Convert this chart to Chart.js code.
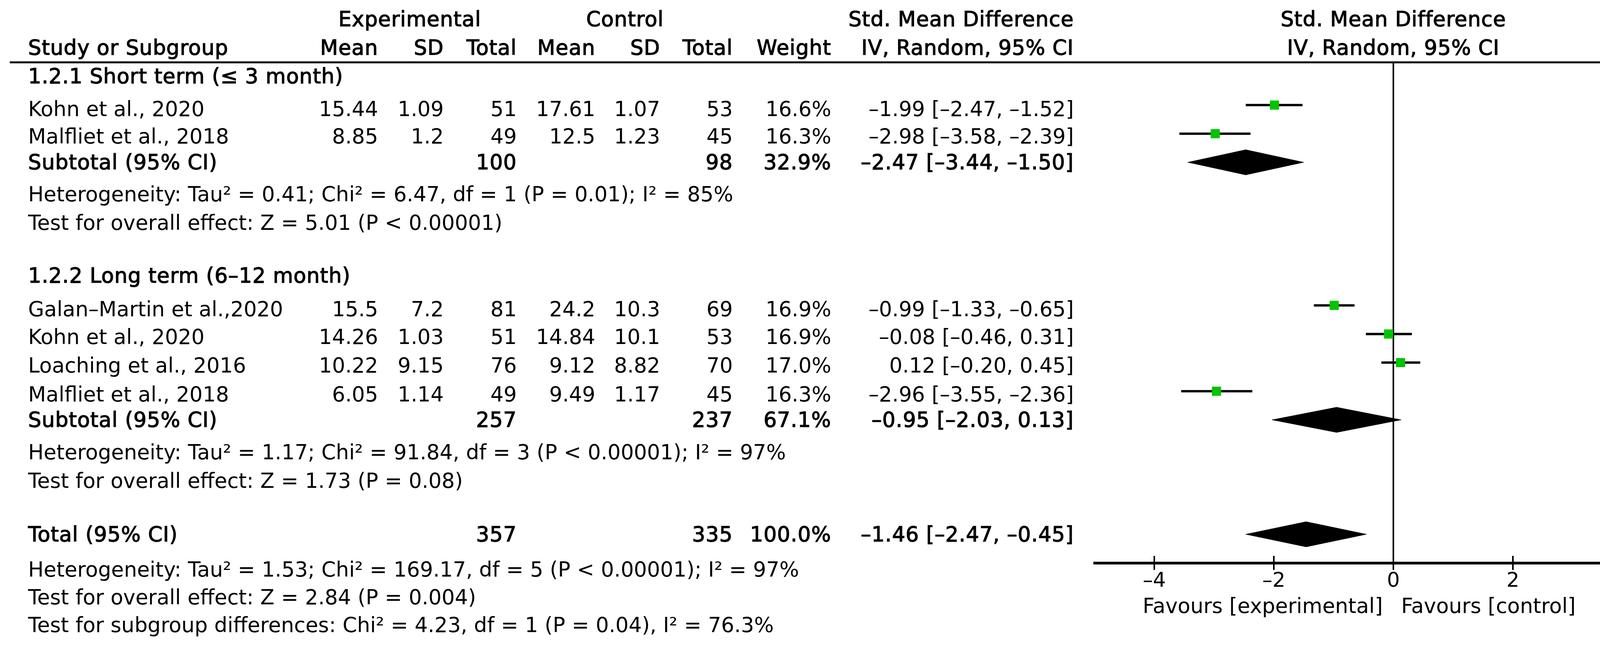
<!DOCTYPE html>
<html>
<head>
<meta charset="utf-8">
<script src="https://cdn.jsdelivr.net/npm/chart.js@4/dist/chart.umd.min.js"></script>
<style>
 body { margin: 0; background: #fff; }
 #page { position: relative; width: 4386px; height: 1650px; overflow: hidden; background: #fff; }
 #plot { position: absolute; left: 0; top: 0; }
 .t { position: absolute; font-family: "DejaVu Sans", sans-serif; font-size: 53px; line-height: 53px; white-space: pre; color: #000; }
 .b { -webkit-text-stroke: 1.5px #000; letter-spacing: 1px; }
 #rule { position: absolute; left: 25px; top: 157px; width: 4358px; height: 5px; background: #000; }
</style>
</head>
<body>
<div id="page">
 <canvas id="plot" width="4386" height="1650"></canvas>
 <div id="rule"></div>
</div>
<script>
// データ（各研究）
const studyNames = ["Kohn et al., 2020", "Malfliet et al., 2018", "Galan\u2013Martin et al.,2020", "Kohn et al., 2020", "Loaching et al., 2016", "Malfliet et al., 2018"];
const expMean = [15.44, 8.85, 15.5, 14.26, 10.22, 6.05];
const expSD = [1.09, 1.2, 7.2, 1.03, 9.15, 1.14];
const expTotal = [51, 49, 81, 51, 76, 49];
const ctrlMean = [17.61, 12.5, 24.2, 14.84, 9.12, 9.49];
const ctrlSD = [1.07, 1.23, 10.3, 10.1, 8.82, 1.17];
const ctrlTotal = [53, 45, 69, 53, 70, 45];
const studyWeight = [16.6, 16.3, 16.9, 16.9, 17.0, 16.3];
const studySmd = [-1.99, -2.98, -0.99, -0.08, 0.12, -2.96];
const studyLow = [-2.47, -3.58, -1.33, -0.46, -0.20, -3.55];
const studyHigh = [-1.52, -2.39, -0.65, 0.31, 0.45, -2.36];
const studyRow = [1, 2, 8, 9, 10, 11];

// サブトータル・トータル
const pooledNames = ["Subtotal (95% CI)", "Subtotal (95% CI)", "Total (95% CI)"];
const pooledExpTotal = [100, 257, 357];
const pooledCtrlTotal = [98, 237, 335];
const pooledWeight = [32.9, 67.1, 100.0];
const pooledSmd = [-2.47, -0.95, -1.46];
const pooledLow = [-3.44, -2.03, -2.47];
const pooledHigh = [-1.50, 0.13, -0.45];
const pooledRow = [3, 12, 16];

const groupTitles = ["1.2.1 Short term (\u2264 3 month)", "1.2.2 Long term (6\u201312 month)"];
const hetLines = [
 "Heterogeneity: Tau\u00b2 = 0.41; Chi\u00b2 = 6.47, df = 1 (P = 0.01); I\u00b2 = 85%",
 "Heterogeneity: Tau\u00b2 = 1.17; Chi\u00b2 = 91.84, df = 3 (P < 0.00001); I\u00b2 = 97%",
 "Heterogeneity: Tau\u00b2 = 1.53; Chi\u00b2 = 169.17, df = 5 (P < 0.00001); I\u00b2 = 97%"
];
const effectLines = [
 "Test for overall effect: Z = 5.01 (P < 0.00001)",
 "Test for overall effect: Z = 1.73 (P = 0.08)",
 "Test for overall effect: Z = 2.84 (P = 0.004)"
];
const subgroupLine = "Test for subgroup differences: Chi\u00b2 = 4.23, df = 1 (P = 0.04), I\u00b2 = 76.3%";
const xTicks = [-4, -2, 0, 2, 4];

// レイアウト（ピクセル）
const baseStudy = [297, 367, 809, 880, 953, 1027];
const basePooled = [433, 1092, 1385];
const baseHet = [515, 1175, 1475];
const baseEffect = [588, 1248, 1546];
const baseGroup = [213, 723];
const col = { name: 72, expMean: 968, expSD: 1136, expTotal: 1323, ctrlMean: 1524, ctrlSD: 1690, ctrlTotal: 1876, weight: 2128, ci: 2749 };

const page = document.getElementById("page");
const dash = s => s.replace(/-/g, "\u2013");
const fmt = v => dash(v.toFixed(2));

function addText(str, x, baseline, align, bold) {
 const el = document.createElement("div");
 el.className = bold ? "t b" : "t";
 el.textContent = str;
 el.style.top = (baseline - 44.8) + "px";
 if (align === "right") el.style.right = (4386 - x) + "px";
 else if (align === "center") { el.style.left = x + "px"; el.style.transform = "translateX(-50%)"; }
 else el.style.left = x + "px";
 page.appendChild(el);
}

// 見出し
addText("Experimental", 1049, 67, "center", true);
addText("Control", 1600, 67, "center", true);
addText("Std. Mean Difference", col.ci, 67, "right", true);
addText("Study or Subgroup", col.name, 140, "left", true);
[["Mean", "expMean"], ["SD", "expSD"], ["Total", "expTotal"], ["Mean", "ctrlMean"], ["SD", "ctrlSD"], ["Total", "ctrlTotal"], ["Weight", "weight"], ["IV, Random, 95% CI", "ci"]]
 .forEach(([s, k]) => addText(s, col[k], 140, "right", true));
groupTitles.forEach((s, i) => addText(s, col.name, baseGroup[i], "left", true));

studyNames.forEach((n, i) => {
 const b = baseStudy[i];
 addText(n, col.name, b, "left", false);
 addText(String(expMean[i]), col.expMean, b, "right", false);
 addText(String(expSD[i]), col.expSD, b, "right", false);
 addText(String(expTotal[i]), col.expTotal, b, "right", false);
 addText(String(ctrlMean[i]), col.ctrlMean, b, "right", false);
 addText(String(ctrlSD[i]), col.ctrlSD, b, "right", false);
 addText(String(ctrlTotal[i]), col.ctrlTotal, b, "right", false);
 addText(studyWeight[i].toFixed(1) + "%", col.weight, b, "right", false);
 addText(`${fmt(studySmd[i])} [${fmt(studyLow[i])}, ${fmt(studyHigh[i])}]`, col.ci, b, "right", false);
});

pooledNames.forEach((n, i) => {
 const b = basePooled[i];
 addText(n, col.name, b, "left", true);
 addText(String(pooledExpTotal[i]), col.expTotal, b, "right", true);
 addText(String(pooledCtrlTotal[i]), col.ctrlTotal, b, "right", true);
 addText(pooledWeight[i].toFixed(1) + "%", col.weight, b, "right", true);
 addText(`${fmt(pooledSmd[i])} [${fmt(pooledLow[i])}, ${fmt(pooledHigh[i])}]`, col.ci, b, "right", true);
});
hetLines.forEach((s, i) => addText(s, col.name, baseHet[i], "left", false));
effectLines.forEach((s, i) => addText(s, col.name, baseEffect[i], "left", false));
addText(subgroupLine, col.name, 1617, "left", false);

// グラフ用データセット
const half = 0.44; // ひし形の高さ（行単位）
const datasets = [{
 type: "scatter",
 data: studySmd.map((v, i) => ({ x: v, y: studyRow[i] })),
 pointStyle: "rect",
 pointRadius: 16.5,
 backgroundColor: "#00c400",
 borderWidth: 0,
 order: 0
}];
studySmd.forEach((v, i) => datasets.push({
 type: "line",
 data: [{ x: studyLow[i], y: studyRow[i] }, { x: studyHigh[i], y: studyRow[i] }],
 borderColor: "#000",
 borderWidth: 6,
 borderCapStyle: "butt",
 pointRadius: 0,
 fill: false,
 order: 1
}));
pooledSmd.forEach((v, i) => datasets.push({
 type: "line",
 data: [
  { x: pooledLow[i], y: pooledRow[i] },
  { x: v, y: pooledRow[i] - half },
  { x: pooledHigh[i], y: pooledRow[i] },
  { x: v, y: pooledRow[i] + half },
  { x: pooledLow[i], y: pooledRow[i] }
 ],
 borderColor: "#000",
 backgroundColor: "#000",
 borderWidth: 1,
 pointRadius: 0,
 tension: 0,
 fill: "shape",
 order: 2
}));

// 目盛り線（軸の上下）
const crossTicks = {
 id: "crossTicks",
 afterDraw(chart) {
  const s = chart.scales.x, ctx = chart.ctx, y = chart.chartArea.bottom;
  ctx.save();
  ctx.strokeStyle = "#000";
  ctx.lineWidth = 4;
  s.ticks.forEach(t => {
   const px = s.getPixelForValue(t.value);
   ctx.beginPath();
   ctx.moveTo(px, y - 18);
   ctx.lineTo(px, y + 18);
   ctx.stroke();
  });
  ctx.restore();
 }
};

const chart = new Chart(document.getElementById("plot"), {
 type: "scatter",
 data: { datasets },
 options: {
  responsive: false,
  devicePixelRatio: 1,
  animation: false,
  layout: { autoPadding: false, padding: { left: 2802, right: 54, top: 159, bottom: 0 } },
  plugins: { legend: { display: false }, tooltip: { enabled: false } },
  scales: {
   x: {
    type: "linear",
    min: -5,
    max: 5,
    afterBuildTicks: s => { s.ticks = xTicks.map(v => ({ value: v })); },
    afterFit: s => { s.height = 210; },
    grid: {
     drawTicks: false,
     color: c => (c.tick && c.tick.value === 0 ? "#000" : "rgba(0,0,0,0)"),
     lineWidth: 4
    },
    border: { display: true, color: "#000", width: 7 },
    ticks: {
     padding: 16,
     color: "#000",
     font: { family: "DejaVu Sans", size: 52 },
     callback: v => dash(String(v))
    }
   },
   y: { type: "linear", min: -0.5, max: 17, reverse: true, display: false }
  }
 },
 plugins: [crossTicks]
});

// 右側の見出しと「Favours」ラベル（0 の位置から）
const x0 = chart.scales.x.getPixelForValue(0);
addText("Std. Mean Difference", x0, 67, "center", true);
addText("IV, Random, 95% CI", x0, 140, "center", true);
addText("Favours [experimental]", x0 - 27, 1568, "right", false);
addText("Favours [control]", x0 + 20, 1568, "left", false);
</script>
</body>
</html>
